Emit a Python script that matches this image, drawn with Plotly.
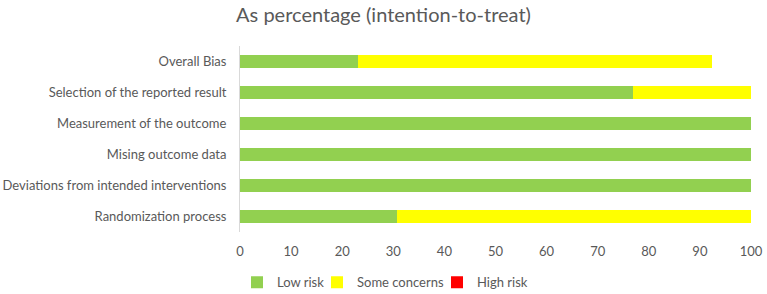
import plotly.graph_objects as go

categories = ["Overall Bias", "Selection of the reported result", "Measurement of the outcome",
              "Mising outcome data", "Deviations from intended interventions", "Randomization process"]
low_risk = [23.1, 76.9, 100, 100, 100, 30.8]
some_concerns = [69.2, 23.1, 0, 0, 0, 69.2]
high_risk = [0, 0, 0, 0, 0, 0]
x_ticks = [0, 10, 20, 30, 40, 50, 60, 70, 80, 90, 100]

font_family = "Lato, Open Sans, sans-serif"
grey = "#595959"

fig = go.Figure()
fig.add_trace(go.Bar(y=categories, x=low_risk, name="Low risk", orientation="h",
                     marker=dict(color="#92d050", line=dict(width=0)), legend="legend"))
fig.add_trace(go.Bar(y=categories, x=some_concerns, name="Some concerns", orientation="h",
                     marker=dict(color="#ffff00", line=dict(width=0)), legend="legend2"))
fig.add_trace(go.Bar(y=categories, x=high_risk, name="High risk", orientation="h",
                     marker=dict(color="#ff0000", line=dict(width=0)), legend="legend3"))

def leg(xl):
    return dict(orientation="h", x=xl / 767, xref="container", xanchor="left",
                y=0.04, yref="container", yanchor="middle", itemwidth=30,
                font=dict(size=13, color=grey), bgcolor="rgba(0,0,0,0)")

fig.update_layout(
    barmode="stack",
    bargap=0.61,
    width=767, height=294,
    margin=dict(l=240, r=16, t=46, b=62, autoexpand=False),
    paper_bgcolor="white", plot_bgcolor="white",
    font=dict(family=font_family, size=13, color=grey),
    title=dict(text="As percentage (intention-to-treat)", x=0.5, xanchor="center",
               yref="container", y=0.95, yanchor="middle",
               font=dict(size=20, color=grey, family=font_family)),
    xaxis=dict(range=[0, 100], tickvals=x_ticks, showgrid=False, zeroline=False,
               showline=False, ticks="", ticklabelstandoff=10,
               tickfont=dict(size=13, color=grey)),
    yaxis=dict(categoryorder="array", categoryarray=categories[::-1], showgrid=False,
               showline=True, linecolor="#d9d9d9", linewidth=1, ticks="",
               ticklabelstandoff=10, tickfont=dict(size=13, color=grey)),
    legend=leg(237),
    legend2=leg(317),
    legend3=leg(437),
    showlegend=True,
)

fig.write_html("out.html")
